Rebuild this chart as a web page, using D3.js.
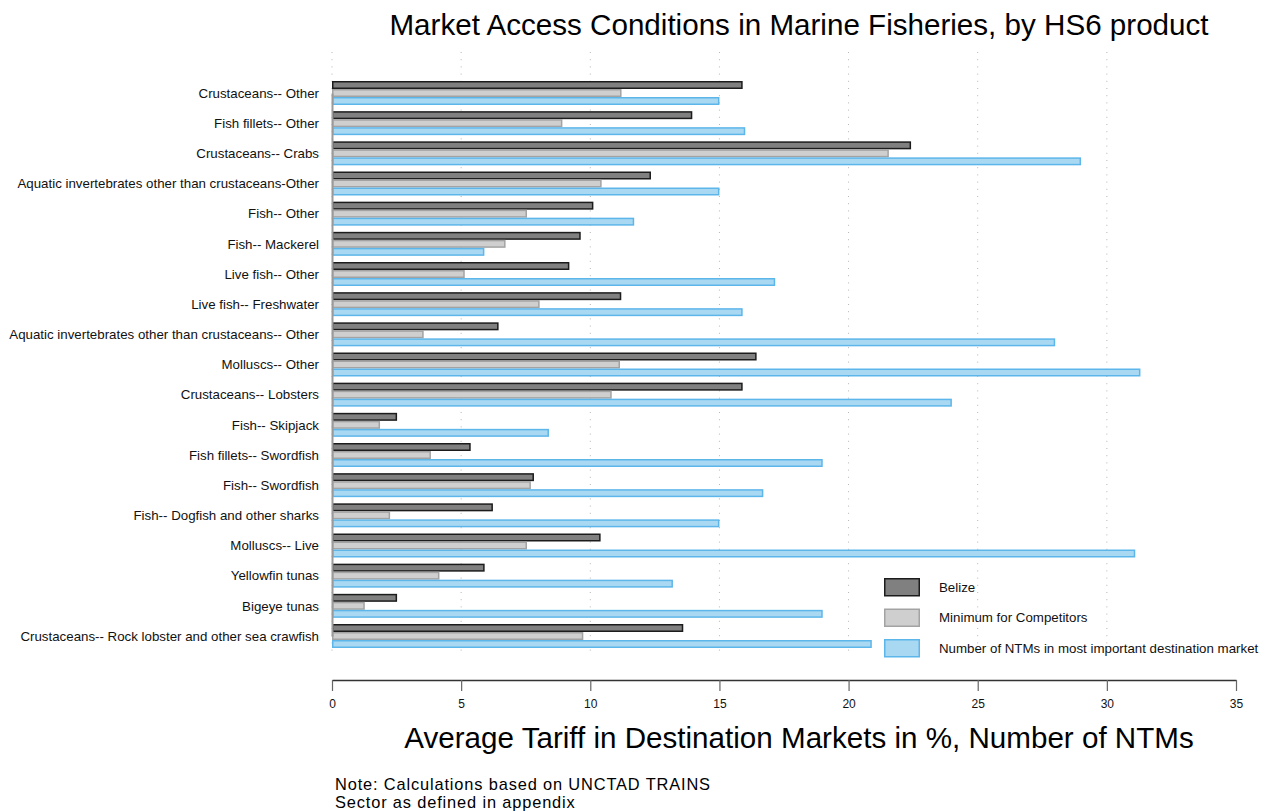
<!DOCTYPE html>
<html>
<head>
<meta charset="utf-8">
<script src="https://cdn.jsdelivr.net/npm/d3@7/dist/d3.min.js"></script>
<style>
  html, body { margin: 0; padding: 0; background: #fff; }
  svg { display: block; font-family: "Liberation Sans", Arial, sans-serif; }
</style>
</head>
<body>
<svg id="chart" width="1271" height="812"></svg>
<script>
// HS6 products, top to bottom
const categories = [
  "Crustaceans-- Other",
  "Fish fillets-- Other",
  "Crustaceans-- Crabs",
  "Aquatic invertebrates other than crustaceans-Other",
  "Fish-- Other",
  "Fish-- Mackerel",
  "Live fish-- Other",
  "Live fish-- Freshwater",
  "Aquatic invertebrates other than crustaceans-- Other",
  "Molluscs-- Other",
  "Crustaceans-- Lobsters",
  "Fish-- Skipjack",
  "Fish fillets-- Swordfish",
  "Fish-- Swordfish",
  "Fish-- Dogfish and other sharks",
  "Molluscs-- Live",
  "Yellowfin tunas",
  "Bigeye tunas",
  "Crustaceans-- Rock lobster and other sea crawfish"
];

// Average tariff faced by Belize (%)
const belize = [15.9, 13.95, 22.42, 12.35, 10.12, 9.63, 9.19, 11.2, 6.45, 16.44,
                15.9, 2.52, 5.37, 7.82, 6.23, 10.4, 5.91, 2.52, 13.6];
// Lowest average tariff faced by competitors (%)
const minCompetitors = [11.21, 8.92, 21.56, 10.44, 7.55, 6.72, 5.14, 8.04, 3.55, 11.15,
                        10.83, 1.86, 3.83, 7.7, 2.25, 7.55, 4.16, 1.27, 9.73];
// Number of NTMs in the most important destination market
const ntms = [15, 16, 29, 15, 11.7, 5.9, 17.16, 15.9, 28, 31.3,
              24, 8.4, 19, 16.7, 15, 31.1, 13.2, 19, 20.9];

const seriesNames = ["Belize", "Minimum for Competitors",
                     "Number of NTMs in most important destination market"];
const xTicks = [0, 5, 10, 15, 20, 25, 30, 35];
const noteLines = ["Note: Calculations based on UNCTAD TRAINS", "Sector as defined in appendix"];

const series = [belize, minCompetitors, ntms];
const fills = ["#808080", "#cfcfcf", "#a9d8f3"];
const strokes = ["#1c1c1c", "#a3a3a3", "#5db6ea"];

const svg = d3.select("#chart");
svg.append("rect").attr("width", 1271).attr("height", 812).attr("fill", "#fff");

const x = d3.scaleLinear().domain([0, 35]).range([332, 1236]);
const y = d3.scalePoint().domain(categories).range([93, 636]);
const sub = d3.scaleBand().domain(d3.range(series.length)).range([-12, 12]).padding(0);

// dotted vertical grid
svg.append("g")
  .selectAll("line")
  .data(xTicks.filter(t => t < 35))
  .join("line")
  .attr("x1", d => x(d)).attr("x2", d => x(d))
  .attr("y1", 52).attr("y2", 652)
  .attr("stroke", "#b5b5b5")
  .attr("stroke-width", 1)
  .attr("stroke-dasharray", "1,6.2");

// bars
const groups = svg.append("g")
  .selectAll("g")
  .data(categories)
  .join("g")
  .attr("transform", d => `translate(0,${y(d)})`);

groups.selectAll("rect")
  .data((d, i) => series.map((s, k) => ({ k, v: s[i] })))
  .join("rect")
  .attr("x", x(0) + 0.75)
  .attr("y", d => sub(d.k) + 0.75)
  .attr("width", d => Math.max(0, x(d.v) - x(0) - 1.5))
  .attr("height", sub.bandwidth() - 1.5)
  .attr("fill", d => fills[d.k])
  .attr("stroke", d => strokes[d.k])
  .attr("stroke-width", 1.5);

// category axis
const yAxis = svg.append("g")
  .attr("transform", `translate(${x(0)},0)`)
  .call(d3.axisLeft(y).tickSize(0).tickPadding(13));
yAxis.select(".domain").attr("stroke", "#9a9a9a").attr("stroke-width", 2);
yAxis.selectAll("text")
  .attr("font-family", "Liberation Sans, Arial, sans-serif")
  .attr("font-size", 13.3)
  .attr("fill", "#111");

// value axis
const xAxis = svg.append("g")
  .attr("transform", "translate(0,680)")
  .call(d3.axisBottom(x).tickValues(xTicks).tickSizeInner(11).tickSizeOuter(0).tickPadding(8));
xAxis.select(".domain").attr("stroke", "#333").attr("stroke-width", 1.5);
xAxis.selectAll(".tick line").attr("stroke", "#666").attr("stroke-width", 1.2);
xAxis.selectAll("text")
  .attr("font-family", "Liberation Sans, Arial, sans-serif")
  .attr("font-size", 12)
  .attr("fill", "#111");

// titles
svg.append("text")
  .attr("x", 799).attr("y", 35)
  .attr("text-anchor", "middle")
  .attr("font-size", 29.6)
  .attr("fill", "#000")
  .text("Market Access Conditions in Marine Fisheries, by HS6 product");

svg.append("text")
  .attr("x", 799).attr("y", 748)
  .attr("text-anchor", "middle")
  .attr("font-size", 29.6)
  .attr("fill", "#000")
  .text("Average Tariff in Destination Markets in %, Number of NTMs");

// source note, two lines
svg.append("g")
  .selectAll("text")
  .data(noteLines)
  .join("text")
  .attr("x", 335)
  .attr("y", (d, i) => 789.5 + i * 18.5)
  .attr("font-size", 16.4)
  .attr("letter-spacing", 0.85)
  .attr("fill", "#000")
  .text(d => d);

// legend
const legend = svg.append("g").attr("transform", "translate(884,578)");
const li = legend.selectAll("g")
  .data(seriesNames)
  .join("g")
  .attr("transform", (d, i) => `translate(0,${i * 30.5})`);
li.append("rect")
  .attr("x", 0.75).attr("y", 0.75)
  .attr("width", 34.5).attr("height", 17)
  .attr("fill", (d, i) => fills[i])
  .attr("stroke", (d, i) => strokes[i])
  .attr("stroke-width", 1.5);
li.append("text")
  .attr("x", 55).attr("y", 13.5)
  .attr("font-size", 13.3)
  .attr("fill", "#111")
  .text(d => d);
</script>
</body>
</html>
